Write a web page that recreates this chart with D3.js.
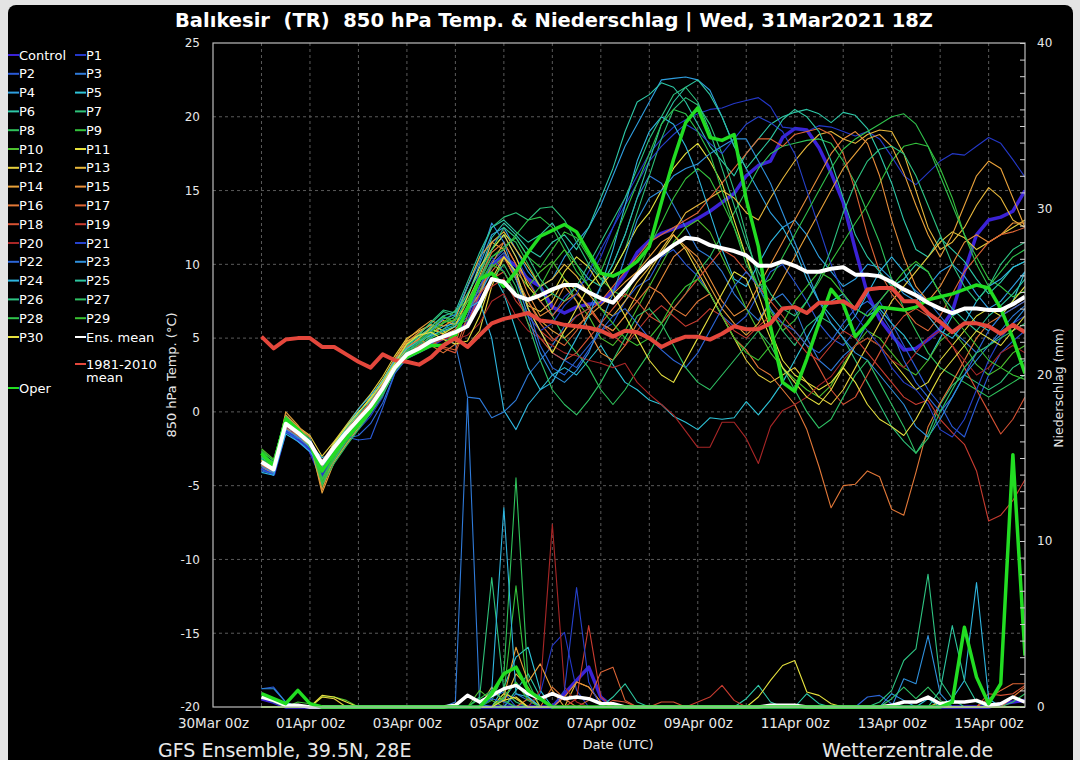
<!DOCTYPE html>
<html>
<head>
<meta charset="utf-8">
<script src="https://cdn.jsdelivr.net/npm/d3@7"></script>
<style>
  body { margin: 0; background: #e4e4e4; }
  svg text { font-family: "DejaVu Sans", sans-serif; }
</style>
</head>
<body>
<svg width="1080" height="760"></svg>
<script>
// 6-hourly steps, first value 31Mar2021 00z
var runStart = Date.UTC(2021, 2, 31, 0);

var memberNames = ["Control", "P1", "P2", "P3", "P4", "P5", "P6", "P7", "P8", "P9", "P10",
    "P11", "P12", "P13", "P14", "P15", "P16", "P17", "P18", "P19", "P20",
    "P21", "P22", "P23", "P24", "P25", "P26", "P27", "P28", "P29", "P30"];

var memberColors = ["#3b22d6", "#2438c8", "#2a5ad8", "#2f7ad8", "#2f9fe0", "#2ec4d8", "#2ec8a8", "#2ec27a", "#2fc25a", "#34c23c", "#4ec02e",
    "#e6e23e", "#e6cf3e", "#e8b83c", "#e8a13a", "#e88e3a", "#e27838", "#de6636", "#d65234", "#c83c30", "#a82626",
    "#2642cc", "#2c66d8", "#2f90dc", "#2fb6e0", "#2ec6a0", "#2ec482", "#2fc264", "#30c24c", "#3ac232", "#e6e040"];

// 850 hPa temperature (°C)
var tControl = [-3.8,-4.2,-1.2,-1.9,-2.6,-4.5,-3.2,-2.0,-1.0,0.0,1.3,3.0,3.9,4.1,4.5,5.0,5.3,6.0,8.0,10.0,10.5,9.9,9.0,8.5,7.1,6.7,7.1,7.3,7.4,8.2,9.3,10.8,11.6,12.1,12.4,12.7,13.1,13.6,14.2,14.8,16.0,16.7,17.0,18.6,19.2,19.1,17.9,16.2,14.2,11.0,8.0,6.3,5.2,4.2,4.3,4.9,5.6,6.8,9.5,12.0,13.0,13.2,13.6,15.0];
var tP1 = [-3.7,-4.0,-1.1,-1.6,-2.0,-4.3,-2.8,-1.6,-1.2,-0.3,1.0,3.2,4.1,4.2,4.6,4.9,5.2,7.0,9.5,11.5,12.0,10.5,9.0,7.5,6.5,7.8,8.5,9.0,10.5,12.5,14.5,16.0,17.5,18.5,19.3,19.8,20.2,20.5,20.6,20.9,21.1,21.3,20.7,19.3,19.2,19.0,19.4,19.3,19.0,18.7,19.0,18.5,17.3,16.0,15.4,16.2,17.0,17.5,17.4,18.0,18.6,18.2,17.1,15.9];
var tP2 = [-3.5,-4.1,-1.0,-1.8,-1.9,-3.8,-2.0,-1.7,-1.9,-1.8,0.3,2.6,3.6,4.0,4.5,5.0,5.5,6.8,8.5,10.2,11.0,9.0,7.0,5.5,4.0,3.5,3.0,4.2,5.5,6.0,7.5,8.5,9.0,10.5,11.0,10.0,9.2,8.0,6.5,5.8,6.5,8.0,9.5,10.0,8.8,7.5,6.0,5.0,4.5,5.5,6.8,7.5,6.0,4.5,3.0,1.5,0.5,-1.0,-1.7,0.5,2.5,4.0,4.8,5.5];
var tP3 = [-3.9,-4.2,-1.3,-2.0,-2.5,-3.6,-2.6,-1.5,-0.4,0.5,1.8,3.3,4.0,4.4,4.9,5.0,4.6,1.0,0.9,-0.4,0.0,0.8,2.5,3.5,4.5,5.8,6.5,7.0,8.5,10.0,12.0,14.5,16.0,15.5,14.0,12.5,11.0,10.5,9.5,8.0,7.0,6.2,7.5,8.0,7.0,5.0,3.5,2.8,3.8,4.5,6.0,7.5,8.5,9.0,8.2,7.5,6.5,5.5,4.8,4.0,4.5,5.5,6.5,7.2];
var tP4 = [-3.3,-3.8,-0.9,-1.5,-2.4,-3.3,-2.2,-1.0,0.0,0.8,2.0,3.4,4.2,4.5,5.1,5.6,6.2,7.8,10.0,12.0,12.5,11.0,9.5,8.5,9.0,10.5,11.5,12.5,14.0,16.0,18.0,19.5,21.0,22.5,22.6,22.7,22.5,21.8,20.0,18.0,16.5,15.0,13.5,12.5,13.0,12.0,10.5,9.5,8.5,9.0,10.0,9.8,9.0,8.0,7.5,8.5,9.5,10.0,9.2,8.0,7.0,7.5,8.5,9.5];
var tP5 = [-3.6,-4.0,-1.2,-1.3,-2.2,-3.1,-2.7,-1.6,-0.8,0.9,1.9,3.1,3.8,4.6,5.3,5.8,6.0,7.0,8.0,9.5,8.0,5.5,3.0,1.5,2.5,3.0,2.5,3.5,4.5,3.2,2.0,1.5,0.8,0.5,-0.3,-0.7,-1.2,-0.4,-0.5,-0.4,0.7,-0.2,0.8,2.0,3.5,5.0,6.5,7.5,8.0,7.0,6.5,7.0,6.0,5.2,4.0,3.5,5.0,6.5,7.0,6.0,5.5,6.5,7.5,9.5];
var tP6 = [-3.2,-3.7,-0.7,-1.7,-2.0,-3.7,-2.1,-1.1,-0.2,0.6,1.7,3.5,4.4,5.0,5.6,6.0,6.5,8.0,9.5,11.8,12.8,12.0,11.0,10.5,11.5,12.0,11.0,12.5,14.5,16.5,19.0,21.0,21.5,22.3,22.0,21.0,19.5,18.0,17.0,16.0,17.5,18.5,19.5,20.0,20.3,20.5,20.2,19.6,20.3,20.1,19.2,17.5,15.5,13.0,11.0,10.5,11.8,11.0,10.2,9.0,8.0,8.8,9.8,10.2];
var tP7 = [-2.9,-3.4,-0.2,-1.0,-1.8,-3.9,-2.5,-1.3,-0.6,0.3,1.4,3.3,4.6,5.3,6.0,6.8,6.5,8.5,10.5,12.5,13.2,13.5,13.0,13.8,13.9,13.0,11.5,10.0,9.0,9.5,11.0,13.5,16.0,18.5,20.5,21.3,20.8,19.5,17.5,15.0,12.0,9.0,7.0,5.5,4.5,5.8,6.5,6.0,5.0,3.5,2.0,0.5,-1.0,-2.0,-2.8,-1.5,0.5,1.8,2.5,2.0,1.5,2.0,3.0,3.5];
var tP8 = [-3.1,-3.6,-0.5,-1.4,-2.3,-5.2,-3.0,-1.4,-0.3,0.5,1.7,2.9,3.9,4.3,5.0,5.4,5.8,7.2,9.0,11.0,12.0,11.5,10.0,8.5,6.5,5.0,4.0,3.0,1.5,0.5,1.5,2.8,4.0,5.5,7.0,8.0,9.5,10.5,12.0,13.5,15.0,16.5,17.5,18.0,18.2,18.4,18.5,18.2,17.0,15.5,13.5,11.5,9.0,7.0,5.5,4.0,3.0,2.5,2.0,1.5,1.0,1.5,2.0,2.5];
var tP9 = [-2.6,-3.3,-0.3,-1.1,-2.0,-4.8,-3.3,-2.1,-0.9,0.2,1.5,3.0,4.2,4.9,5.8,6.5,6.0,7.0,8.8,10.5,11.2,11.8,10.5,9.8,11.0,12.2,11.8,10.5,9.0,8.2,7.8,9.5,11.2,12.8,14.5,15.8,16.5,15.8,14.2,12.5,10.5,8.5,6.8,5.5,6.2,7.5,8.8,10.2,11.5,12.8,14.0,15.5,17.0,18.0,18.2,18.0,16.5,14.5,12.0,10.5,9.0,8.5,7.8,8.2];
var tP10 = [-2.5,-3.2,-0.4,-1.2,-2.2,-5.0,-2.9,-1.8,-0.7,0.3,1.2,2.7,3.7,4.4,5.2,6.0,6.9,7.5,8.2,9.8,10.5,9.5,8.5,9.5,10.2,9.0,7.5,6.5,5.0,4.5,5.5,7.0,8.5,10.0,11.5,12.5,13.0,12.2,10.5,8.8,7.0,5.5,4.0,3.0,2.2,1.5,1.0,1.8,3.2,4.5,5.5,5.0,4.0,3.0,2.5,3.5,4.8,5.5,4.5,3.2,2.5,3.0,4.0,4.5];
var tP11 = [-3.4,-3.9,-0.9,-1.5,-2.2,-3.4,-2.3,-1.2,-0.1,1.0,2.2,3.6,4.8,5.2,5.6,5.3,5.8,7.8,9.8,11.0,12.0,10.5,8.5,7.5,8.0,9.5,10.5,9.8,8.5,9.5,11.0,12.5,13.5,15.0,16.5,17.5,18.2,17.0,15.5,13.0,10.5,8.0,5.5,3.5,2.5,2.0,1.5,2.0,3.0,4.5,5.0,4.5,3.5,2.5,1.5,2.0,3.5,4.5,5.5,6.5,7.0,6.5,7.5,8.5];
var tP12 = [-3.0,-3.5,-0.3,-1.0,-1.6,-3.0,-2.0,-0.9,0.2,1.2,2.4,3.8,5.0,5.5,5.9,5.5,4.8,4.5,5.5,8.5,10.5,9.0,7.2,6.8,7.5,9.0,8.2,7.0,6.0,5.5,6.5,8.0,9.5,10.8,12.0,11.0,9.5,8.0,6.5,5.0,3.5,2.5,2.0,2.5,3.0,2.0,1.0,0.5,1.5,3.0,4.5,6.0,7.5,8.5,9.5,10.5,11.5,12.2,11.8,11.0,11.5,12.0,12.5,13.0];
var tP13 = [-3.3,-3.7,-0.6,-1.3,-2.1,-4.0,-2.7,-1.4,-0.5,0.4,1.6,3.2,4.3,5.0,5.7,6.2,5.9,7.5,9.2,11.5,12.2,11.0,9.8,8.5,9.0,10.0,9.2,8.0,7.0,6.5,7.5,8.8,9.8,11.0,12.2,13.5,14.0,14.5,15.0,14.5,13.5,13.0,14.5,15.8,17.0,18.0,18.8,19.0,18.5,18.2,18.8,19.1,19.0,17.5,15.0,12.5,11.0,11.5,12.5,14.0,15.2,14.5,13.0,12.5];
var tP14 = [-3.5,-3.9,0.0,-0.9,-2.0,-5.5,-3.4,-2.2,-1.1,0.1,1.4,3.6,4.9,5.6,6.2,5.8,6.3,8.5,10.5,11.5,11.0,9.2,7.5,6.2,5.5,5.0,5.8,6.5,7.2,8.0,8.8,9.5,10.5,11.5,12.0,11.2,10.0,8.5,7.0,6.0,5.2,6.0,7.5,9.0,10.5,12.0,13.5,15.0,16.5,17.5,18.5,18.8,18.0,16.2,14.0,12.0,10.5,12.0,14.0,16.0,17.0,16.5,14.5,12.5];
var tP15 = [-3.8,-4.1,-0.2,-1.0,-1.7,-5.3,-3.1,-1.9,-0.8,0.2,1.5,3.4,4.7,5.4,5.9,5.2,5.6,6.8,8.0,10.0,11.5,10.0,8.0,6.5,7.0,8.5,7.5,5.5,4.0,3.5,4.5,6.0,7.5,9.0,10.5,11.2,10.5,9.0,7.5,6.5,7.0,8.5,10.0,11.5,13.0,14.5,16.0,17.5,18.5,19.0,18.2,16.0,13.0,10.5,8.5,7.5,8.5,10.0,11.5,12.0,11.5,12.0,12.8,12.8];
var tP16 = [-3.6,-4.0,-1.1,-1.7,-2.4,-3.7,-2.4,-1.3,-0.3,0.7,1.9,3.6,4.4,4.9,4.5,4.0,4.6,7.2,9.0,10.8,11.5,10.0,8.8,7.5,6.5,7.5,8.0,7.2,6.0,5.5,6.5,7.5,8.5,8.0,7.0,6.5,7.5,8.0,6.5,5.0,4.2,3.0,2.5,1.5,0.5,-1.2,-3.7,-6.5,-5.0,-4.9,-4.0,-4.4,-6.6,-7.0,-4.1,-1.0,0.6,2.0,3.5,5.0,6.0,6.5,7.0,7.5];
var tP17 = [-3.7,-4.0,-0.9,-1.6,-2.3,-4.1,-2.7,-1.6,-0.7,0.2,1.3,2.9,3.8,4.2,4.7,4.4,4.2,6.5,8.5,9.5,10.5,9.0,7.5,6.0,5.0,4.5,5.5,6.8,7.5,8.5,9.5,10.5,11.5,12.0,12.5,13.0,13.5,14.5,15.5,16.5,17.5,18.5,18.5,18.0,18.8,19.0,19.2,18.8,17.5,15.0,12.0,9.5,8.0,7.0,6.0,5.5,6.5,8.0,9.5,10.5,11.5,12.0,12.2,12.5];
var tP18 = [-3.4,-3.8,-0.7,-1.4,-2.1,-3.6,-2.5,-1.5,-0.6,0.3,1.5,3.0,3.9,4.5,4.8,4.3,4.0,6.0,8.0,9.0,9.5,8.0,6.0,5.0,4.0,3.5,4.0,5.0,6.0,7.0,8.0,7.5,6.5,6.0,7.0,8.0,9.0,10.0,11.0,10.5,9.5,8.5,7.5,6.5,5.5,4.5,3.0,1.5,0.5,1.0,2.5,4.0,5.5,6.5,7.0,6.5,5.5,4.5,3.0,1.5,0.0,-1.5,-0.5,1.0];
var tP19 = [-3.5,-3.9,-1.0,-1.5,-2.2,-3.3,-2.2,-1.2,-0.4,0.6,1.8,3.2,3.9,4.4,4.6,4.9,5.2,6.0,7.5,8.5,9.0,7.5,6.5,5.5,4.8,5.5,6.5,7.0,6.0,5.2,4.5,5.5,6.5,7.2,6.5,5.8,6.2,7.0,6.5,5.5,5.0,5.8,6.5,6.0,5.0,4.0,3.5,4.5,5.5,5.0,4.0,3.0,2.0,1.0,0.5,0.8,-0.5,-1.4,-2.2,-4.0,-7.4,-7.0,-6.0,-4.6];
var tP20 = [-3.3,-3.8,-0.8,-1.3,-1.9,-3.4,-2.3,-1.3,-0.5,0.5,1.7,3.1,3.8,4.2,4.7,5.0,4.9,5.2,6.0,7.5,8.0,6.5,5.5,5.0,4.5,4.0,3.8,3.5,3.3,3.0,3.3,2.0,1.2,0.5,-0.2,-1.3,-2.4,-2.4,-0.7,-0.7,-1.8,-3.5,-1.0,0.1,0.5,1.0,1.8,2.4,3.5,4.5,5.0,4.5,3.5,3.0,4.0,5.0,5.5,4.5,3.5,2.5,3.0,4.0,4.5,4.0];
var tP21 = [-3.8,-4.3,-1.3,-1.9,-2.5,-4.2,-3.1,-1.7,-0.8,0.1,1.3,2.8,3.8,4.3,4.7,5.1,5.4,6.8,9.0,10.5,9.5,8.0,6.5,5.5,6.0,7.2,8.0,9.5,11.0,12.5,14.0,15.5,17.0,18.0,18.8,19.5,19.0,18.2,17.5,18.5,19.5,20.0,19.6,19.0,17.5,15.0,12.5,10.0,8.0,6.5,5.5,4.5,3.0,2.0,1.5,0.5,-1.2,-1.7,-0.5,1.5,3.5,5.0,6.0,6.5];
var tP22 = [-4.0,-4.2,-1.4,-1.8,-1.8,-3.9,-2.4,-1.8,-1.6,-0.8,0.6,2.6,3.7,4.1,4.6,5.2,5.5,6.5,8.5,10.0,10.8,9.5,7.0,4.5,3.0,2.5,3.5,4.5,5.5,6.5,7.0,6.0,5.0,4.2,3.5,3.0,4.0,5.5,7.0,8.5,9.5,8.5,7.0,6.0,5.5,4.5,4.0,4.8,6.0,7.0,7.5,6.8,5.5,3.5,2.0,1.0,0.0,1.0,2.5,4.0,5.5,6.5,7.0,7.5];
var tP23 = [-3.7,-4.1,-1.2,-1.7,-2.4,-4.0,-2.9,-1.7,-0.9,0.1,1.4,3.1,4.1,4.7,5.5,6.3,6.6,8.5,10.2,12.8,11.5,9.0,6.5,4.0,2.5,2.0,2.8,4.0,6.0,8.0,10.5,13.0,14.5,15.0,16.0,16.5,16.8,17.5,18.0,18.5,18.5,17.0,15.5,13.5,11.5,9.5,7.5,6.0,5.0,4.0,3.5,2.5,1.5,0.5,-1.0,-1.7,-0.5,1.0,2.5,3.5,4.5,5.2,6.0,7.0];
var tP24 = [-4.1,-4.3,-1.5,-2.0,-2.7,-3.8,-2.6,-1.0,0.2,1.1,2.1,3.5,4.3,4.8,5.2,5.5,5.8,7.0,7.5,5.0,0.1,-1.2,0.5,1.5,2.0,3.5,5.0,6.5,8.5,11.0,14.0,17.0,19.0,20.0,19.5,18.0,16.0,13.5,11.0,9.0,8.5,10.0,11.5,12.5,11.0,9.0,7.5,6.5,5.5,6.5,8.0,9.5,10.5,9.5,8.0,6.5,5.5,5.0,6.0,7.5,8.5,9.0,9.8,10.2];
var tP25 = [-3.1,-3.6,-0.5,-1.2,-2.0,-3.6,-2.2,-1.1,-0.1,0.8,2.0,3.4,4.5,5.1,5.8,6.5,6.8,8.8,10.8,12.5,13.0,12.2,11.5,12.0,12.8,11.5,10.0,9.0,8.5,10.0,12.0,14.5,17.0,19.5,21.0,22.0,22.5,21.5,20.0,18.0,16.5,17.5,18.5,19.8,20.5,20.0,19.0,17.0,14.5,12.0,10.5,9.5,8.5,9.0,10.0,9.5,8.0,7.0,6.2,5.5,6.5,7.2,8.0,9.0];
var tP26 = [-3.0,-3.5,-0.6,-1.3,-2.1,-4.6,-3.2,-1.9,-0.8,0.2,1.3,3.2,4.5,5.2,6.1,6.9,6.7,8.0,9.5,11.0,12.5,11.8,10.5,9.0,8.0,7.5,8.5,10.0,11.5,13.0,14.5,16.5,18.5,20.0,21.5,22.0,21.0,19.0,16.5,14.0,11.5,9.5,8.0,7.0,6.5,7.5,9.0,11.0,13.5,15.5,17.0,17.8,18.0,17.5,16.0,14.0,12.0,10.0,8.5,7.5,8.5,10.0,11.0,11.5];
var tP27 = [-3.2,-3.7,-0.7,-1.4,-2.2,-4.9,-3.5,-2.3,-1.2,-0.1,1.1,2.8,3.7,4.3,5.0,5.6,5.9,6.2,7.0,9.0,10.0,8.5,6.0,3.5,1.5,0.5,-0.2,0.8,2.0,3.5,5.0,6.5,7.0,6.0,4.5,3.0,2.0,1.5,2.5,3.5,4.5,5.5,4.5,3.0,1.5,0.0,-1.1,-0.5,1.0,2.5,3.5,2.0,0.5,-1.0,-2.8,-1.8,0.0,1.5,3.0,4.0,4.5,5.0,5.5,6.0];
var tP28 = [-2.7,-3.3,-0.3,-1.1,-1.9,-4.5,-3.0,-1.7,-0.6,0.4,1.6,3.1,4.1,4.8,5.6,6.4,6.3,7.5,9.0,10.5,11.0,12.0,13.0,13.2,12.5,11.0,9.5,8.5,9.5,11.5,13.5,15.5,17.5,19.5,20.5,20.2,19.0,17.5,15.0,12.5,10.0,8.5,9.0,10.5,12.0,13.5,15.0,16.5,17.8,18.5,19.0,19.5,20.0,20.2,19.5,18.0,16.0,14.0,12.0,10.0,8.5,9.5,10.5,11.0];
var tP29 = [-2.8,-3.5,-0.4,-1.2,-2.1,-4.7,-3.1,-1.8,-0.7,0.3,1.5,3.0,4.0,4.6,5.4,6.1,6.2,7.0,8.8,10.0,9.5,8.0,7.5,8.5,10.0,11.0,10.0,8.5,7.0,6.0,5.0,4.5,5.0,6.0,7.5,8.5,9.0,8.0,6.5,5.0,4.0,3.5,4.5,6.0,7.5,8.5,9.5,9.0,8.0,7.0,6.5,7.5,8.5,9.5,10.2,9.5,8.0,6.5,5.5,4.5,3.5,3.0,2.5,2.2];
var tP30 = [-3.3,-3.8,-0.7,-1.5,-2.3,-3.5,-2.1,-1.0,0.0,0.9,2.0,3.3,4.6,5.2,5.4,4.9,4.6,4.8,6.5,9.0,10.5,9.5,7.0,5.5,4.0,5.5,7.0,8.5,9.5,8.0,6.5,5.0,3.5,2.5,2.0,3.5,5.0,6.5,8.0,9.5,9.0,7.0,5.0,3.0,2.0,1.0,0.5,1.5,3.0,2.0,0.5,-0.5,-1.0,-1.6,-0.5,1.0,2.5,3.5,4.5,5.5,5.0,4.5,5.5,6.5];
var tOper = [-2.8,-3.7,-0.5,-1.2,-2.2,-4.0,-2.8,-1.8,-0.9,0.1,1.5,3.0,3.7,4.1,4.5,4.5,5.2,7.0,9.0,9.4,8.5,9.5,10.8,11.9,12.3,12.7,12.2,10.8,9.4,9.2,9.6,10.2,11.2,14.2,17.1,19.6,20.6,18.6,18.4,18.8,14.4,11.2,5.8,2.0,1.4,3.6,6.0,8.3,7.3,5.1,6.0,7.1,7.0,6.9,7.1,7.6,7.8,8.0,8.3,8.6,8.4,7.0,5.0,2.6];
var tEnsMean = [-3.4,-3.9,-0.8,-1.4,-2.1,-3.5,-2.4,-1.4,-0.5,0.4,1.6,3.0,3.9,4.3,4.8,5.1,5.4,5.8,7.3,9.0,8.8,7.9,7.6,7.9,8.3,8.6,8.6,8.1,7.7,7.4,8.3,9.3,10.1,10.7,11.3,11.8,11.7,11.3,11.1,10.9,10.6,9.9,9.9,10.2,9.9,9.5,9.5,9.7,9.8,9.3,9.3,9.2,8.8,8.3,7.9,7.4,7.0,6.7,7.0,7.0,6.9,6.9,7.3,7.8];
var tClimate = [5.1,4.3,4.9,5.0,5.0,4.4,4.4,3.9,3.4,3.0,3.9,3.5,3.4,3.2,3.7,4.5,5.0,4.4,5.2,6.0,6.3,6.5,6.7,6.2,6.1,5.9,5.8,5.7,5.5,5.1,5.5,5.4,5.0,4.4,4.8,5.1,5.1,4.9,5.3,5.8,5.6,5.6,6.0,7.0,7.1,6.7,7.4,7.4,7.5,7.0,8.3,8.4,8.4,7.5,7.5,6.7,6.1,5.4,6.0,6.0,5.8,5.3,5.9,5.4];

// precipitation (mm) as [step, value]; every other step is dry
var rrControl = [[0,0.5],[1,0.3],[25,0.8],[26,1.6],[27,2.4],[28,0.6],[61,0.2],[62,0.3],[63,0.4]];
var rrP1 = [[23,0.8],[24,3.7],[25,4.5],[26,1.0]];
var rrP2 = [[0,1.1],[1,1.2],[2,0.3],[19,0.6],[20,0.9]];
var rrP3 = [[16,0.3],[17,18.6],[18,0.2],[21,0.8],[22,0.4]];
var rrP4 = [[20,0.5],[21,1.5],[22,0.6],[52,0.8],[53,0.4]];
var rrP5 = [[20,1.2],[21,3.0],[22,3.6],[23,1.0],[55,0.5]];
var rrP6 = [[21,1.0],[22,2.0],[23,0.6],[40,0.5],[41,1.3],[42,0.3],[45,0.8],[46,0.2]];
var rrP7 = [[18,0.6],[19,7.8],[20,1.0],[21,0.3]];
var rrP8 = [[19,0.4],[20,2.0],[21,13.8],[22,1.5]];
var rrP9 = [[20,0.8],[21,7.3],[22,0.6]];
var rrP10 = [[0,0.6],[1,0.3],[5,0.6],[6,0.6],[7,0.4],[18,1.0],[19,0.4]];
var rrP11 = [[41,0.6],[42,1.6],[43,2.5],[44,2.8],[45,0.9],[46,0.7],[47,0.2]];
var rrP12 = [[5,0.6],[6,0.5],[20,0.8],[21,0.5],[56,0.3]];
var rrP13 = [[19,1.2],[20,0.3],[21,2.0],[22,1.2],[26,1.5],[27,1.2],[28,0.3]];
var rrP14 = [[20,0.6],[21,3.6],[22,1.5],[23,2.6],[24,1.0]];
var rrP15 = [[25,0.6],[26,1.5],[27,1.2],[28,0.3]];
var rrP16 = [[22,0.5],[24,1.2],[25,0.5],[62,0.6],[63,1.2]];
var rrP17 = [[27,0.4],[28,2.1],[29,2.4],[30,0.4],[60,0.5],[61,1.0],[62,1.4],[63,1.4]];
var rrP18 = [[29,0.4],[30,0.3],[33,0.3],[34,0.3],[60,0.8],[61,0.7],[62,0.8],[63,1.3]];
var rrP19 = [[26,0.5],[27,4.9],[28,0.6],[36,0.3],[37,0.6],[38,1.3],[39,0.4]];
var rrP20 = [[23,1.0],[24,11.0],[25,1.2],[26,0.3]];
var rrP21 = [[25,1.0],[26,7.2],[27,1.5]];
var rrP22 = [[19,0.5],[20,0.3],[50,0.6],[51,0.7],[52,0.2]];
var rrP23 = [[0,1.1],[1,1.1],[2,0.3],[53,1.7],[54,1.4],[55,4.3],[56,0.8]];
var rrP24 = [[19,1.0],[20,12.0],[21,0.8],[22,0.6],[57,0.5],[58,1.6],[59,7.5],[60,0.5]];
var rrP25 = [[29,0.6],[30,1.4],[31,0.3],[56,1.0],[57,4.9],[58,1.6],[59,0.3]];
var rrP26 = [[51,0.3],[52,1.0],[53,2.8],[54,3.5],[55,8.0],[56,1.6],[57,0.5]];
var rrP27 = [[52,0.5],[53,1.2],[54,0.5],[55,1.2],[56,0.4],[62,0.3],[63,0.8]];
var rrP28 = [[18,0.5],[19,1.0],[20,0.4]];
var rrP29 = [[3,0.3],[4,0.2],[20,0.6],[21,1.5],[22,0.4]];
var rrP30 = [[5,0.7],[6,0.6],[7,0.3],[20,0.4],[21,0.6]];
var rrOper = [[0,0.8],[1,0.5],[2,0.2],[3,1.0],[4,0.2],[19,0.8],[20,2.0],[21,2.4],[22,1.0],[23,0.5],[57,0.3],[58,4.8],[59,1.8],[60,0.2],[61,1.4],[62,15.2],[63,3.1]];
var rrEnsMean = [[0,0.6],[1,0.4],[2,0.1],[3,0.1],[16,0.1],[17,0.7],[18,0.3],[19,0.7],[20,1.1],[21,1.3],[22,0.8],[23,0.5],[24,0.8],[25,0.5],[26,0.6],[27,0.5],[28,0.2],[29,0.2],[42,0.1],[43,0.1],[44,0.1],[52,0.1],[53,0.3],[54,0.3],[55,0.6],[56,0.2],[57,0.3],[58,0.3],[59,0.4],[60,0.1],[61,0.2],[62,0.6],[63,0.3]];

var tempTicks = [-20, -15, -10, -5, 0, 5, 10, 15, 20, 25];
var rainTicks = [0, 10, 20, 30, 40];
var dateTicks = ["2021-03-30", "2021-04-01", "2021-04-03", "2021-04-05", "2021-04-07",
    "2021-04-09", "2021-04-11", "2021-04-13", "2021-04-15"];

var memberTemps = [tControl, tP1, tP2, tP3, tP4, tP5, tP6, tP7, tP8, tP9, tP10,
    tP11, tP12, tP13, tP14, tP15, tP16, tP17, tP18, tP19, tP20,
    tP21, tP22, tP23, tP24, tP25, tP26, tP27, tP28, tP29, tP30];
var memberRain = [rrControl, rrP1, rrP2, rrP3, rrP4, rrP5, rrP6, rrP7, rrP8, rrP9, rrP10,
    rrP11, rrP12, rrP13, rrP14, rrP15, rrP16, rrP17, rrP18, rrP19, rrP20,
    rrP21, rrP22, rrP23, rrP24, rrP25, rrP26, rrP27, rrP28, rrP29, rrP30];

var nSteps = tControl.length;
var times = d3.range(nSteps).map(i => new Date(runStart + i * 6 * 3600e3));

function fullRain(pairs) {
    var out = new Array(nSteps).fill(0);
    pairs.forEach(p => { out[p[0]] = p[1]; });
    return out;
}

var plot = { left: 213, right: 1025, top: 43, bottom: 707 };

var svg = d3.select("svg");

svg.append("rect")
    .attr("x", 8).attr("y", 5)
    .attr("width", 1065).attr("height", 790)
    .attr("rx", 8)
    .attr("fill", "#000");

var x = d3.scaleUtc()
    .domain([new Date(Date.UTC(2021, 2, 30)), new Date(Date.UTC(2021, 3, 15, 18))])
    .range([plot.left, plot.right]);
var y = d3.scaleLinear().domain([-20, 25]).range([plot.bottom, plot.top]);
var yRain = d3.scaleLinear().domain([0, 40]).range([plot.bottom, plot.top]);

// grid
var grid = svg.append("g")
    .attr("stroke", "#5a5a5a")
    .attr("stroke-width", 1)
    .attr("stroke-dasharray", "3,3");
grid.selectAll(".vgrid")
    .data(d3.utcDay.range(new Date(Date.UTC(2021, 2, 31)), x.domain()[1]))
    .enter().append("line")
    .attr("x1", d => x(d)).attr("x2", d => x(d))
    .attr("y1", plot.top).attr("y2", plot.bottom);
grid.selectAll(".hgrid")
    .data(tempTicks.slice(1, -1))
    .enter().append("line")
    .attr("x1", plot.left).attr("x2", plot.right)
    .attr("y1", d => y(d)).attr("y2", d => y(d));

svg.append("defs").append("clipPath").attr("id", "clip")
    .append("rect")
    .attr("x", plot.left).attr("y", plot.top - 2)
    .attr("width", plot.right - plot.left).attr("height", plot.bottom - plot.top + 4);

var tLine = d3.line()
    .x((d, i) => x(times[i]))
    .y(d => y(d));
var rLine = d3.line()
    .x((d, i) => x(times[i]))
    .y(d => yRain(d));

var lines = svg.append("g")
    .attr("clip-path", "url(#clip)")
    .attr("fill", "none")
    .attr("stroke-linejoin", "round");

// temperature members
lines.selectAll(".member")
    .data(memberTemps)
    .enter().append("path")
    .attr("d", tLine)
    .attr("stroke", (d, i) => memberColors[i])
    .attr("stroke-width", (d, i) => i === 0 ? 3.5 : 1.1);

lines.append("path").attr("d", tLine(tOper))
    .attr("stroke", "#22dd22").attr("stroke-width", 3.5);
lines.append("path").attr("d", tLine(tClimate))
    .attr("stroke", "#e4473c").attr("stroke-width", 4);
lines.append("path").attr("d", tLine(tEnsMean))
    .attr("stroke", "#ffffff").attr("stroke-width", 4);

// precipitation on the second axis
lines.selectAll(".rain")
    .data(memberRain.map(fullRain))
    .enter().append("path")
    .attr("d", rLine)
    .attr("stroke", (d, i) => memberColors[i])
    .attr("stroke-width", (d, i) => i === 0 ? 3.5 : 1.1);
lines.append("path").attr("d", rLine(fullRain(rrEnsMean)))
    .attr("stroke", "#ffffff").attr("stroke-width", 3.5);
lines.append("path").attr("d", rLine(fullRain(rrOper)))
    .attr("stroke", "#22dd22").attr("stroke-width", 3.5);

// frame
svg.append("rect")
    .attr("x", plot.left).attr("y", plot.top)
    .attr("width", plot.right - plot.left).attr("height", plot.bottom - plot.top)
    .attr("fill", "none").attr("stroke", "#bdbdbd").attr("stroke-width", 1.2);

// axes
var axisLeft = svg.append("g")
    .attr("transform", "translate(" + plot.left + ",0)")
    .call(d3.axisLeft(y).tickValues(tempTicks).tickSize(0).tickPadding(13)
        .tickFormat(d => String(d)));
var axisBottom = svg.append("g")
    .attr("transform", "translate(0," + plot.bottom + ")")
    .call(d3.axisBottom(x).tickValues(dateTicks.map(s => new Date(s + "T00:00Z")))
        .tickSize(0).tickPadding(11).tickFormat(d3.utcFormat("%d%b %Hz")));
var axisRight = svg.append("g")
    .attr("transform", "translate(" + plot.right + ",0)")
    .call(d3.axisRight(yRain).tickValues(d3.range(0, 41, 1)).tickSize(-5).tickPadding(12)
        .tickFormat(d => rainTicks.indexOf(d) >= 0 ? String(d) : ""));

[axisLeft, axisBottom, axisRight].forEach(g => {
    g.select(".domain").remove();
    g.selectAll("text").attr("fill", "#e8e8e8")
        .style("font-family", "'DejaVu Sans', sans-serif");
    g.selectAll("line").attr("stroke", "#d0d0d0");
});
axisLeft.selectAll("text").style("font-size", "12px");
axisRight.selectAll("text").style("font-size", "12px");
axisBottom.selectAll("text").style("font-size", "13.5px");

// titles and labels
svg.append("text")
    .attr("x", 554).attr("y", 27)
    .attr("text-anchor", "middle")
    .attr("fill", "#fff")
    .style("font-size", "19.5px").style("font-weight", "bold")
    .style("white-space", "pre")
    .text("Balıkesir  (TR)  850 hPa Temp. & Niederschlag | Wed, 31Mar2021 18Z");

svg.append("text")
    .attr("transform", "translate(176,375) rotate(-90)")
    .attr("text-anchor", "middle")
    .attr("fill", "#e8e8e8")
    .style("font-size", "13px")
    .text("850 hPa Temp. (°C)");

svg.append("text")
    .attr("transform", "translate(1063,388) rotate(-90)")
    .attr("text-anchor", "middle")
    .attr("fill", "#e8e8e8")
    .style("font-size", "12.5px")
    .text("Niederschlag (mm)");

svg.append("text")
    .attr("x", 618).attr("y", 749)
    .attr("text-anchor", "middle")
    .attr("fill", "#e8e8e8")
    .style("font-size", "13px")
    .text("Date (UTC)");

svg.append("text")
    .attr("x", 158).attr("y", 757)
    .attr("fill", "#e8e8e8")
    .style("font-size", "19px")
    .text("GFS Ensemble, 39.5N, 28E");

svg.append("text")
    .attr("x", 822).attr("y", 757)
    .attr("fill", "#e8e8e8")
    .style("font-size", "19px")
    .text("Wetterzentrale.de");

// legend
var legend = svg.append("g").style("font-size", "13px");
var legendItems = memberNames.map((n, i) => ({ name: n, color: memberColors[i] }))
    .concat([{ name: "Ens. mean", color: "#ffffff" }]);

legendItems.forEach((d, k) => {
    var lx = k % 2 ? 75 : 8,
        ly = 55 + Math.floor(k / 2) * 18.8;
    legend.append("line")
        .attr("x1", lx).attr("x2", lx + 11)
        .attr("y1", ly).attr("y2", ly)
        .attr("stroke", d.color).attr("stroke-width", 2);
    legend.append("text")
        .attr("x", lx + 11).attr("y", ly + 4.5)
        .attr("fill", "#fff")
        .text(d.name);
});

legend.append("line")
    .attr("x1", 75).attr("x2", 86).attr("y1", 364).attr("y2", 364)
    .attr("stroke", "#e4473c").attr("stroke-width", 2);
legend.append("text").attr("x", 86).attr("y", 368.5).attr("fill", "#fff").text("1981-2010");
legend.append("text").attr("x", 86).attr("y", 382).attr("fill", "#fff").text("mean");

legend.append("line")
    .attr("x1", 8).attr("x2", 19).attr("y1", 388).attr("y2", 388)
    .attr("stroke", "#22dd22").attr("stroke-width", 2);
legend.append("text").attr("x", 19).attr("y", 392.5).attr("fill", "#fff").text("Oper");
</script>
</body>
</html>
